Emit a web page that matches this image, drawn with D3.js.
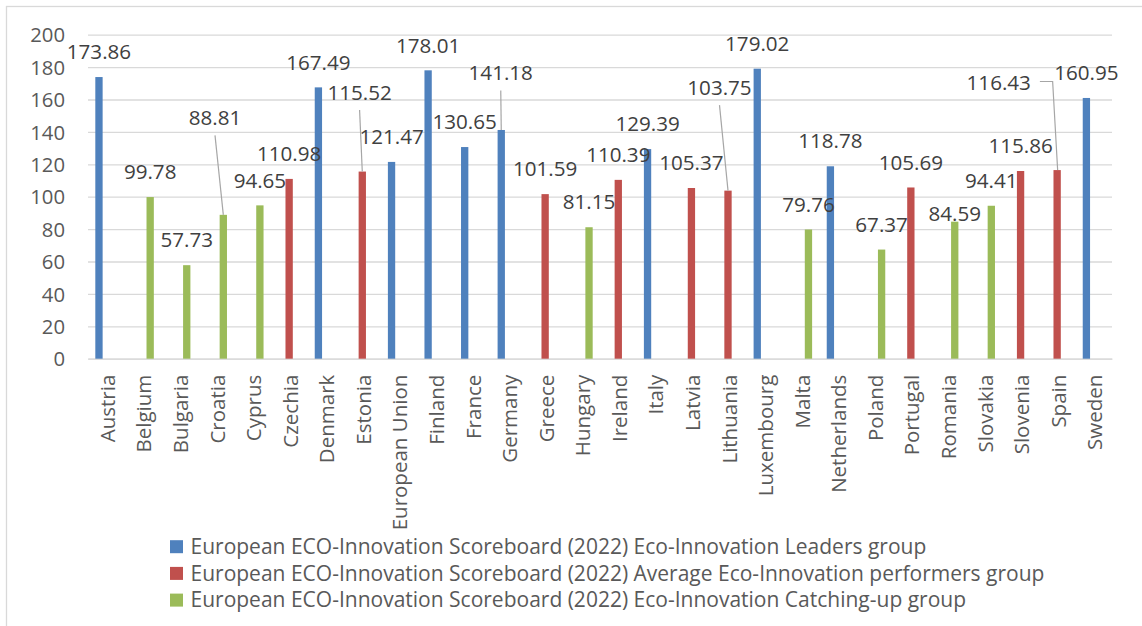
<!DOCTYPE html>
<html>
<head>
<meta charset="utf-8">
<script src="https://cdn.jsdelivr.net/npm/d3@7"></script>
<style>
  html, body { margin: 0; padding: 0; background: #fff; }
  svg { display: block; font-family: "Open Sans", sans-serif; }
</style>
</head>
<body>
<svg id="chart" width="1142" height="626"></svg>
<script>
// ---- data ----
const countries = ["Austria","Belgium","Bulgaria","Croatia","Cyprus","Czechia","Denmark","Estonia","European Union","Finland","France","Germany","Greece","Hungary","Ireland","Italy","Latvia","Lithuania","Luxembourg","Malta","Netherlands","Poland","Portugal","Romania","Slovakia","Slovenia","Spain","Sweden"];
const seriesNames = [
  "European ECO-Innovation Scoreboard (2022) Eco-Innovation Leaders group",
  "European ECO-Innovation Scoreboard (2022) Average Eco-Innovation performers group",
  "European ECO-Innovation Scoreboard (2022) Eco-Innovation Catching-up group"
];
const leaders   = [173.86,null,null,null,null,null,167.49,null,121.47,178.01,130.65,141.18,null,null,null,129.39,null,null,179.02,null,118.78,null,null,null,null,null,null,160.95];
const average   = [null,null,null,null,null,110.98,null,115.52,null,null,null,null,101.59,null,110.39,null,105.37,103.75,null,null,null,null,105.69,null,null,115.86,116.43,null];
const catching  = [null,99.78,57.73,88.81,94.65,null,null,null,null,null,null,null,null,81.15,null,null,null,null,null,79.76,null,67.37,null,84.59,94.41,null,null,null];
const yTicks = [0,20,40,60,80,100,120,140,160,180,200];

// ---- layout / style ----
const colors = ["#4f81bd","#c0504d","#9bbb59"];
const plot = {left: 88, right: 1112, top: 34.7, bottom: 358.7};
// manual label nudges (dx, dy px) and leader style, as placed in the reference
const labelNudge = {
  "Croatia":   {dx: -8.3, dy: -72, leader: "below"},
  "Estonia":   {dx: -2.7, dy: -54, leader: "below"},
  "Germany":   {dx: -0.5, dy: -32, leader: "below"},
  "Lithuania": {dx: -8.5, dy: -78, leader: "below"},
  "Spain":     {dx: -58.4, dy: -62, leader: "side"},
  "Romania":   {dx: 0, dy: 17.6}
};

const svg = d3.select("#chart");

// frame
svg.append("rect").attr("x",6.5).attr("y",6.5).attr("width",1200).attr("height",700)
  .attr("fill","none").attr("stroke","#d9d9d9").attr("stroke-width",1.3);

const x0 = d3.scaleBand().domain(countries).range([plot.left, plot.right]).paddingInner(0.4).paddingOuter(0.2);
const x1 = d3.scaleBand().domain([0,1,2]).range([0, x0.bandwidth()]);
const y = d3.scaleLinear().domain([0,200]).range([plot.bottom, plot.top]);

// gridlines
const yAxis = d3.axisLeft(y).tickValues(yTicks).tickSize(-(plot.right-plot.left)).tickPadding(23);
const gy = svg.append("g").attr("transform",`translate(${plot.left},0)`).call(yAxis);
gy.select(".domain").remove();
gy.selectAll(".tick line").attr("stroke","#d9d9d9").attr("stroke-width",1.3);
gy.selectAll(".tick text").attr("fill","#595959").attr("font-size","20.3px")
  .attr("font-family","Open Sans").attr("dy","0.35em");

// x axis labels
const xAxis = d3.axisBottom(x0).tickSize(0).tickPadding(0);
const gx = svg.append("g").attr("transform",`translate(0,${plot.bottom})`).call(xAxis);
gx.select(".domain").attr("stroke","#d9d9d9").attr("stroke-width",1.3);
gx.selectAll(".tick text")
  .attr("fill","#595959").attr("font-size","20.5px").attr("font-family","Open Sans")
  .attr("text-anchor","end")
  .attr("transform","rotate(-90)")
  .attr("x",-16).attr("y",0).attr("dy","8.5px");

// bars
const seriesData = [leaders, average, catching];
const items = [];
seriesData.forEach((arr, s) => arr.forEach((v, i) => { if (v != null) items.push({c: countries[i], s, v}); }));

svg.append("g").selectAll("rect").data(items).join("rect")
  .attr("x", d => x0(d.c) + x1(d.s))
  .attr("y", d => y(d.v))
  .attr("width", x1.bandwidth())
  .attr("height", d => y(0) - y(d.v))
  .attr("fill", d => colors[d.s]);

// data labels + leaders
const gl = svg.append("g");
items.forEach(d => {
  const bx = x0(d.c) + x1(d.s) + x1.bandwidth()/2;
  const by = y(d.v);
  const n = labelNudge[d.c] || {dx:0, dy:0};
  const cx = bx + n.dx, cy = by - 25 + n.dy;
  const t = gl.append("text").attr("x",cx).attr("y",cy).attr("dy","0.35em")
    .attr("text-anchor","middle").attr("fill","#404040").attr("font-size","20.6px")
    .attr("font-family","Open Sans").text(d3.format(".2f")(d.v));
  if (n.leader === "below") {
    gl.append("line").attr("x1",cx).attr("y1",cy+17.5).attr("x2",bx).attr("y2",by)
      .attr("stroke","#a6a6a6").attr("stroke-width",1.2);
  } else if (n.leader === "side") {
    const w = t.node().getComputedTextLength();
    const sx = cx + w/2 + 9, sy = cy - 1.6;
    gl.append("polyline").attr("points",`${sx},${sy} ${bx-4.5},${sy} ${bx+0.5},${by}`)
      .attr("fill","none").attr("stroke","#a6a6a6").attr("stroke-width",1.2);
  }
});

// legend
const lg = svg.append("g");
seriesNames.forEach((name, i) => {
  const cy = 546.7 + i*26.7;
  lg.append("rect").attr("x",170).attr("y",cy-6.5).attr("width",13).attr("height",13).attr("fill",colors[i]);
  lg.append("text").attr("x",190.5).attr("y",cy).attr("dy","0.35em")
    .attr("fill","#595959").attr("font-size","21px").attr("font-family","Open Sans").text(name);
});
</script>
</body>
</html>
